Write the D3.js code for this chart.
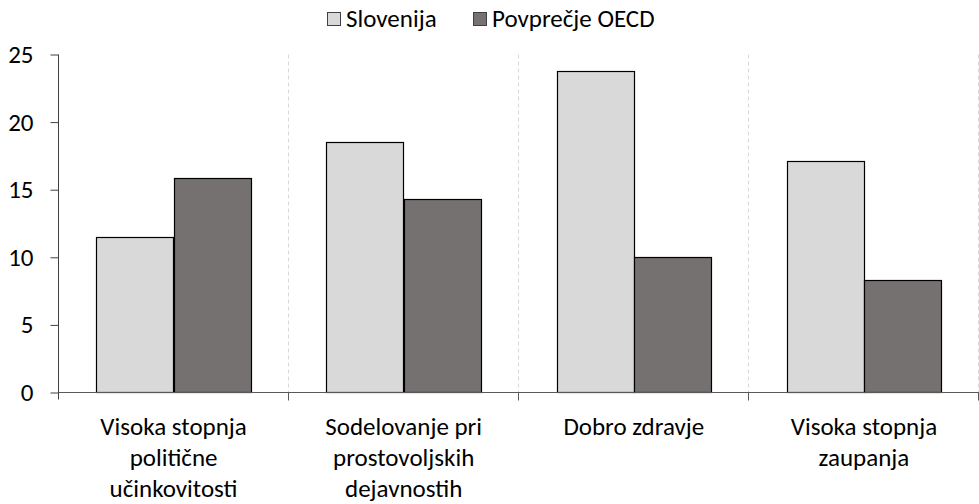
<!DOCTYPE html>
<html><head><meta charset="utf-8">
<script src="https://cdn.jsdelivr.net/npm/d3@7"></script>
<style>
body{margin:0;background:#fff;}
text{font-family:Carlito,Lato,"Noto Sans",sans-serif;fill:#000;}
</style></head><body>
<svg id="c" width="979" height="504"></svg>
<script>
const categories = [
  ["Visoka stopnja","politične","učinkovitosti"],
  ["Sodelovanje pri","prostovoljskih","dejavnostih"],
  ["Dobro zdravje"],
  ["Visoka stopnja","zaupanja"]
];
const seriesNames = ["Slovenija","Povprečje OECD"];
const slovenija = [11.5, 18.5, 23.8, 17.1];
const oecd = [15.9, 14.3, 10.0, 8.35];
const yTicks = [0,5,10,15,20,25];
const colors = ["#d9d9d9","#767171"];

const svg = d3.select("#c");
const L = 58.5, R = 979, T = 54.5, B = 392.5;
const fs = 25;

const x = d3.scaleBand().domain(d3.range(categories.length)).range([L,R]).paddingInner(0).paddingOuter(0);
const xs = d3.scaleBand().domain([0,1]).range([0,x.bandwidth()]).paddingInner(0).paddingOuter(0.49);
const y = d3.scaleLinear().domain([0,25]).range([B,T]);

// dashed separators
const bounds = d3.range(1,categories.length+1).map(i=>x(i-1)+x.bandwidth());
svg.append("g").selectAll("line").data(bounds).join("line")
  .attr("x1",d=>Math.round(d)-0.5).attr("x2",d=>Math.round(d)-0.5)
  .attr("y1",T).attr("y2",B)
  .attr("stroke","#d9d9d9").attr("stroke-width",1).attr("stroke-dasharray","4,3");

// bars
const data = [];
categories.forEach((c,i)=>{ data.push({i,s:0,v:slovenija[i]}); data.push({i,s:1,v:oecd[i]}); });
svg.append("g").selectAll("rect").data(data).join("rect")
  .attr("x",d=>Math.round(x(d.i)+xs(d.s))+0.5)
  .attr("y",d=>Math.round(y(d.v))+0.5)
  .attr("width",Math.round(xs.bandwidth()))
  .attr("height",d=>B-Math.round(y(d.v))-0.5)
  .attr("fill",d=>colors[d.s]).attr("stroke","#000").attr("stroke-width",1.2);

// y axis
const ya = svg.append("g").attr("transform",`translate(${L},0)`)
  .call(d3.axisLeft(y).tickValues(yTicks).tickSize(8).tickPadding(17));
ya.select(".domain").attr("d",`M0,${T}V${B+7}`).attr("stroke","#404040");
ya.selectAll(".tick line").attr("stroke","#404040");
ya.selectAll("text").attr("font-size",fs).attr("font-family","Carlito,Lato,sans-serif").attr("fill","#000");

// x axis line & ticks
svg.append("line").attr("x1",L).attr("x2",R).attr("y1",B).attr("y2",B).attr("stroke","#595959").attr("stroke-width",1);
svg.append("g").selectAll("line").data(bounds).join("line")
  .attr("x1",d=>Math.round(d)-0.5).attr("x2",d=>Math.round(d)-0.5)
  .attr("y1",B).attr("y2",B+8).attr("stroke","#595959");

// x labels
const xl = svg.append("g").selectAll("text").data(categories).join("text")
  .attr("text-anchor","middle").attr("font-size",fs)
  .attr("transform",(d,i)=>`translate(${x(i)+x.bandwidth()/2},435)`);
xl.selectAll("tspan").data(d=>d).join("tspan")
  .attr("x",0).attr("y",(d,j)=>j*31).text(d=>d);

// legend
const lg = svg.append("g");
const lx = [327, 473];
seriesNames.forEach((n,i)=>{
  lg.append("rect").attr("x",lx[i]+0.5).attr("y",12.5).attr("width",13).attr("height",13)
    .attr("fill",colors[i]).attr("stroke","#404040").attr("stroke-width",1);
  lg.append("text").attr("x",lx[i]+19).attr("y",27).attr("font-size",fs).text(n);
});
</script>
</body></html>
